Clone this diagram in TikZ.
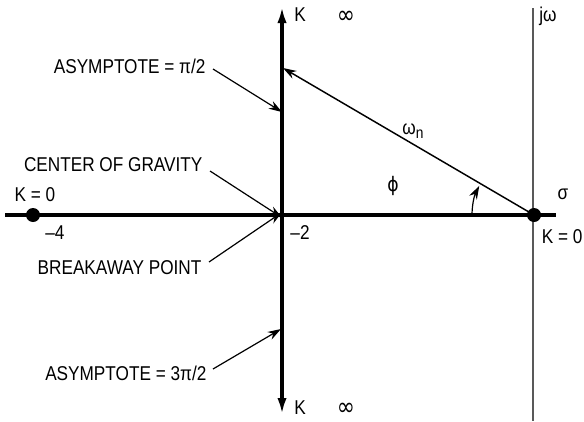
\documentclass[tikz,border=0pt]{standalone}
\usepackage{fontspec}
\setmainfont{Liberation Sans}[FakeStretch=0.86]
\newfontfamily\symfont{DejaVu Sans}[FakeStretch=0.86]
\usetikzlibrary{arrows.meta,calc}
\begin{document}
\begin{tikzpicture}[x=0.75pt,y=-0.75pt,
  lbl/.style={font=\fontsize{15}{17}\selectfont, inner sep=1pt},
  note/.style={lbl, anchor=east},
  ptr/.style={-{Stealth[length=10pt,width=6.5pt]}, line width=0.9pt},
  axis/.style={line width=2.3pt},
  dot/.style={circle, fill, inner sep=0pt, minimum size=10.5pt}]
\useasboundingbox (0,0) rectangle (584,421);
% s-plane axes
\coordinate (cg) at (282,215);
\coordinate (west) at (5,215);
\coordinate (east) at (556,215);
\coordinate (top) at (282,7);
\coordinate (bot) at (282,414);
\coordinate (jtop) at (533,8);
\coordinate (jbot) at (533,421);
\draw[gray!70!black, line width=1pt] (jtop) -- (jbot);
\draw[axis] (west) -- (east);
\draw[axis, {Latex[length=12pt,width=7pt]}-{Latex[length=12pt,width=7pt]}] (top) -- (bot);
% poles
\node[dot] (p4) at (33,215) {};
\node[dot] (p0) at (534,215) {};
\node[lbl] (k4) at (35,195) {K = 0};
\node[lbl] (m4) at (55,233) {--4};
\node[lbl] (m2) at (300,233) {--2};
\node[lbl, anchor=east] (k0) at (584,237) {K = 0};
\node[lbl] (sig) at (563,194) {σ};
\node[lbl] (jw) at (548,16) {jω};
% K -> infinity
\node[lbl] (ktop) at (300,15) {K};
\node[lbl, font=\fontsize{19}{20}\selectfont] (itop) at (346,17) {\symfont ∞};
\node[lbl] (kbot) at (300,408) {K};
\node[lbl, font=\fontsize{19}{20}\selectfont] (ibot) at (346,409) {\symfont ∞};
% natural frequency and angle
\coordinate (wn) at (283,68);
\draw[ptr, line width=1.1pt] (p0.center) -- (wn);
\node[lbl] (wlbl) at (413,131) {ω\raisebox{-0.45ex}{\fontsize{12}{13}\selectfont n}};
\draw[ptr] (p0.center) ++(-62,0) arc[start angle=180, end angle=152, radius=46.5pt];
\node[lbl] (phi) at (393,186) {\symfont ϕ};
% annotations
\node[note] (asy1) at (207,66) {ASYMPTOTE = π/2};
\node[note] (cog) at (204,165) {CENTER OF GRAVITY};
\node[note] (brk) at (203,268) {BREAKAWAY POINT};
\node[note] (asy2) at (208,373) {ASYMPTOTE = 3π/2};
\coordinate (a1) at (282,112);
\coordinate (a2) at (281,329);
\draw[ptr] (asy1.east) ++(6,3) -- (a1);
\draw[ptr] (cog.east) ++(6,6) -- ([yshift=-2]cg);
\draw[ptr] (brk.east) ++(6,-6) -- ([yshift=2]cg);
\draw[ptr] (asy2.east) ++(5,-4) -- (a2);
\end{tikzpicture}
\end{document}
